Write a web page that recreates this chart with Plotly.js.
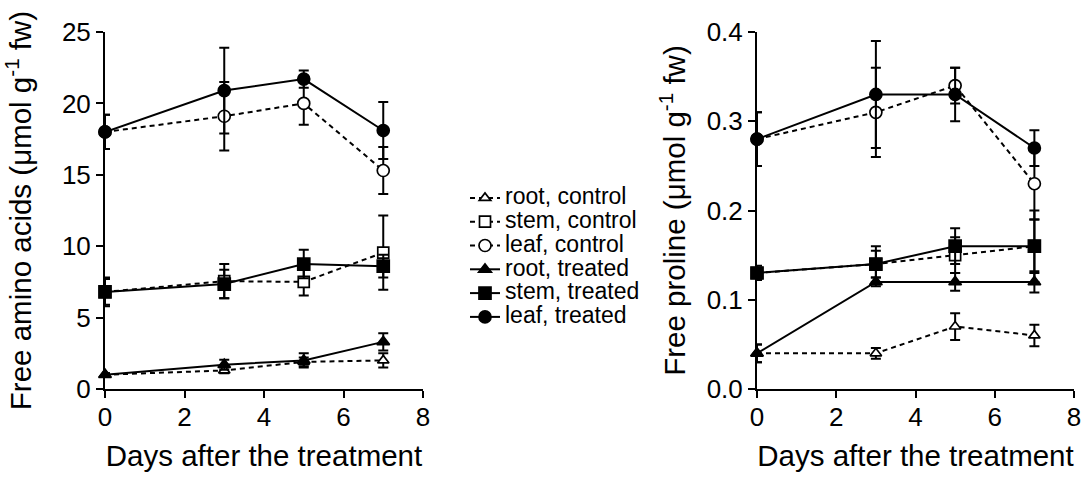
<!DOCTYPE html>
<html>
<head>
<meta charset="utf-8">
<script src="https://cdn.plot.ly/plotly-3.0.1.min.js"></script>
<style>html,body{margin:0;padding:0;background:#fff;}#chart{width:1083px;height:477px;}</style>
</head>
<body>
<div id="chart"></div>
<script>
// ---- data ----
const days = [0, 3, 5, 7];
const seriesNames = ["root, control", "stem, control", "leaf, control", "root, treated", "stem, treated", "leaf, treated"];

// Free amino acids (µmol g-1 fw)
const aaRootCtrl = [1.0, 1.3, 1.9, 2.0];
const aaRootCtrlErr = [0.1, 0.2, 0.3, 0.5];
const aaStemCtrl = [6.8, 7.55, 7.5, 9.55];
const aaStemCtrlErr = [1.0, 1.2, 0.95, 2.6];
const aaLeafCtrl = [18.0, 19.1, 20.0, 15.3];
const aaLeafCtrlErr = [1.2, 2.4, 1.5, 1.65];
const aaRootTrt = [1.0, 1.7, 2.0, 3.3];
const aaRootTrtErr = [0.1, 0.35, 0.5, 0.6];
const aaStemTrt = [6.8, 7.35, 8.75, 8.6];
const aaStemTrtErr = [0.9, 1.0, 1.0, 0.8];
const aaLeafTrt = [18.0, 20.9, 21.7, 18.1];
const aaLeafTrtErr = [1.2, 3.0, 0.6, 2.0];

// Free proline (µmol g-1 fw)
const prRootCtrl = [0.04, 0.04, 0.07, 0.06];
const prRootCtrlErr = [0.01, 0.006, 0.015, 0.012];
const prStemCtrl = [0.13, 0.14, 0.15, 0.16];
const prStemCtrlErr = [0.005, 0.015, 0.02, 0.04];
const prLeafCtrl = [0.28, 0.31, 0.34, 0.23];
const prLeafCtrlErr = [0.03, 0.05, 0.02, 0.04];
const prRootTrt = [0.04, 0.12, 0.12, 0.12];
const prRootTrtErr = [0.01, 0.005, 0.01, 0.012];
const prStemTrt = [0.13, 0.14, 0.16, 0.16];
const prStemTrtErr = [0.008, 0.02, 0.02, 0.03];
const prLeafTrt = [0.28, 0.33, 0.33, 0.27];
const prLeafTrtErr = [0.03, 0.06, 0.03, 0.02];

const xTicks = [0, 2, 4, 6, 8];
const aaTicks = [0, 5, 10, 15, 20, 25];
const prTicks = [0, 0.1, 0.2, 0.3, 0.4];

// ---- styling ----
const symbols = ["triangle-up", "square", "circle", "triangle-up", "square", "circle"];
const sizes = [10, 11, 12, 11, 12, 12];
const FONT = "Liberation Sans, Arial, sans-serif";

function mk(i, y, err, xa, ya, showleg) {
  const ctrl = i < 3;
  return {
    type: "scatter", mode: "lines+markers",
    x: days, y: y, name: '<span style="font-size:23px">' + seriesNames[i] + '</span>',
    xaxis: xa, yaxis: ya, showlegend: showleg, legendrank: i + 1,
    cliponaxis: false,
    line: {color: "#000", width: 2, dash: ctrl ? "5px,4px" : "solid"},
    marker: {symbol: symbols[i], size: sizes[i], color: ctrl ? "#fff" : "#000",
             line: {color: "#000", width: 1.7}},
    error_y: {type: "data", array: err, visible: true, color: "#000", thickness: 2, width: 5}
  };
}

const aaY = [aaRootCtrl, aaStemCtrl, aaLeafCtrl, aaRootTrt, aaStemTrt, aaLeafTrt];
const aaE = [aaRootCtrlErr, aaStemCtrlErr, aaLeafCtrlErr, aaRootTrtErr, aaStemTrtErr, aaLeafTrtErr];
const prY = [prRootCtrl, prStemCtrl, prLeafCtrl, prRootTrt, prStemTrt, prLeafTrt];
const prE = [prRootCtrlErr, prStemCtrlErr, prLeafCtrlErr, prRootTrtErr, prStemTrtErr, prLeafTrtErr];

const traces = [];
for (let i = 0; i < 6; i++) traces.push(mk(i, aaY[i], aaE[i], "x", "y", true));
for (let i = 0; i < 6; i++) traces.push(mk(i, prY[i], prE[i], "x2", "y2", false));

const W = 1083, H = 477;
const axisCommon = {
  showline: true, linecolor: "#000", linewidth: 2,
  ticks: "outside", ticklen: 7, tickwidth: 2, tickcolor: "#000",
  showgrid: false, zeroline: false, automargin: false,
  tickfont: {family: FONT, size: 26, color: "#000"}
};
function xax(d0, d1, anchor) {
  return Object.assign({}, axisCommon, {
    domain: [d0 / W, d1 / W], range: [0, 8], tickvals: xTicks, anchor: anchor,
    ticklabelstandoff: -3,
    title: {text: "Days after the treatment", font: {family: FONT, size: 29.5, color: "#000"}, standoff: 14}
  });
}
function yax(range, ticks, fmt, title, anchor, so) {
  return Object.assign({}, axisCommon, {
    domain: [(H - 389) / H, (H - 32) / H], range: range, tickvals: ticks, tickformat: fmt, anchor: anchor,
    title: {text: title, font: {family: FONT, size: 29.5, color: "#000"}, standoff: so}
  });
}

const layout = {
  width: W, height: H,
  margin: {l: 0, r: 0, t: 0, b: 0},
  paper_bgcolor: "#fff", plot_bgcolor: "#fff",
  font: {family: FONT, color: "#000"},
  xaxis: xax(105, 423, "y"),
  yaxis: yax([0, 25], aaTicks, "", "Free amino acids (μmol g<sup>-1</sup> fw)", "x", 22),
  xaxis2: xax(757, 1074, "y2"),
  yaxis2: yax([0, 0.4], prTicks, ".1f", "Free proline (μmol g<sup>-1</sup> fw)", "x2", 12),
  legend: {
    x: 465 / W, y: 1 - 181 / H, xanchor: "left", yanchor: "top",
    font: {family: FONT, size: 16, color: "#000"},
    bgcolor: "rgba(0,0,0,0)", borderwidth: 0, itemwidth: 30, tracegroupgap: 0
  },
  showlegend: true
};

Plotly.newPlot("chart", traces, layout, {displayModeBar: false, staticPlot: true});
</script>
</body>
</html>
